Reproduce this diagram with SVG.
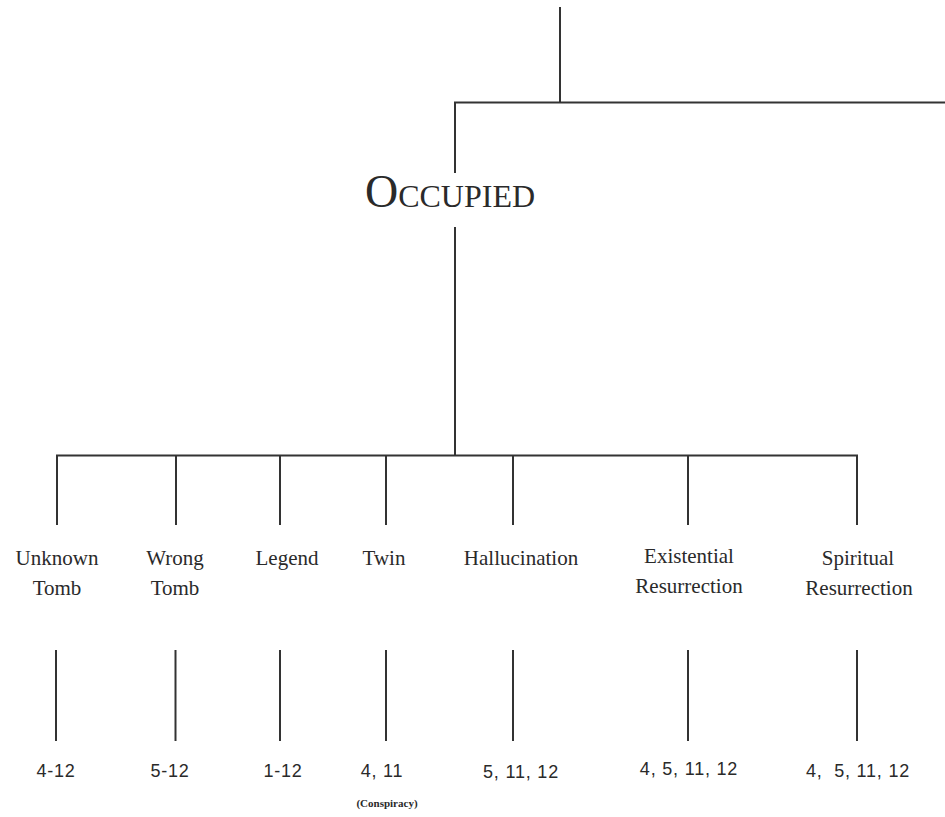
<svg xmlns="http://www.w3.org/2000/svg" width="945" height="817" viewBox="0 0 945 817">
  <style>
    .ln { stroke: #333; stroke-width: 2; fill: none; stroke-linecap: butt; }
    .lbl { font-family: "Liberation Serif", "Times New Roman", serif; font-size: 21px; fill: #2a2a2a; text-anchor: middle; }
    .num { font-family: "Liberation Sans", Arial, sans-serif; font-size: 18px; fill: #2a2a2a; text-anchor: middle; letter-spacing: 0.8px; }
    .note { font-family: "Liberation Serif", "Times New Roman", serif; font-size: 11px; font-weight: bold; fill: #2a2a2a; text-anchor: middle; }
    .title { font-family: "Liberation Serif", "Times New Roman", serif; fill: #2a2a2a; text-anchor: middle; }
  </style>
  <rect width="945" height="817" fill="#ffffff"/>
  <g id="connectors">
    <path class="ln" d="M560 7 V102.5"/>
    <path class="ln" d="M455 173 V102.5 H945"/>
    <path class="ln" d="M455 227 V455.5"/>
    <path class="ln" d="M57 525 V455.5 H857 V525"/>
    <path class="ln" d="M176 455.5 V525"/>
    <path class="ln" d="M280 455.5 V525"/>
    <path class="ln" d="M386 455.5 V525"/>
    <path class="ln" d="M513 455.5 V525"/>
    <path class="ln" d="M688 455.5 V525"/>
    <path class="ln" d="M56 650 V741"/>
    <path class="ln" d="M175.5 650 V741"/>
    <path class="ln" d="M280 650 V741"/>
    <path class="ln" d="M386 650 V741"/>
    <path class="ln" d="M513 650 V741"/>
    <path class="ln" d="M688 650 V741"/>
    <path class="ln" d="M857 650 V741"/>
  </g>
  <g id="occupied">
    <text class="title" x="450" y="207"><tspan font-size="46">O</tspan><tspan font-size="32">CCUPIED</tspan></text>
  </g>
  <g id="unknown-tomb">
    <text class="lbl" x="57" y="565">Unknown</text>
    <text class="lbl" x="57" y="595">Tomb</text>
    <text class="num" x="56" y="777">4-12</text>
  </g>
  <g id="wrong-tomb">
    <text class="lbl" x="175" y="565">Wrong</text>
    <text class="lbl" x="175" y="595">Tomb</text>
    <text class="num" x="170" y="777">5-12</text>
  </g>
  <g id="legend">
    <text class="lbl" x="287" y="565">Legend</text>
    <text class="num" x="283" y="777">1-12</text>
  </g>
  <g id="twin">
    <text class="lbl" x="384" y="565">Twin</text>
    <text class="num" x="382" y="777">4, 11</text>
    <text class="note" x="387" y="807">(Conspiracy)</text>
  </g>
  <g id="hallucination">
    <text class="lbl" x="521" y="565">Hallucination</text>
    <text class="num" x="521" y="778">5, 11, 12</text>
  </g>
  <g id="existential-resurrection">
    <text class="lbl" x="689" y="563">Existential</text>
    <text class="lbl" x="689" y="593">Resurrection</text>
    <text class="num" x="689" y="775">4, 5, 11, 12</text>
  </g>
  <g id="spiritual-resurrection">
    <text class="lbl" x="858" y="565">Spiritual</text>
    <text class="lbl" x="859" y="595">Resurrection</text>
    <text class="num" x="858" y="777">4,&#160; 5, 11, 12</text>
  </g>
</svg>
